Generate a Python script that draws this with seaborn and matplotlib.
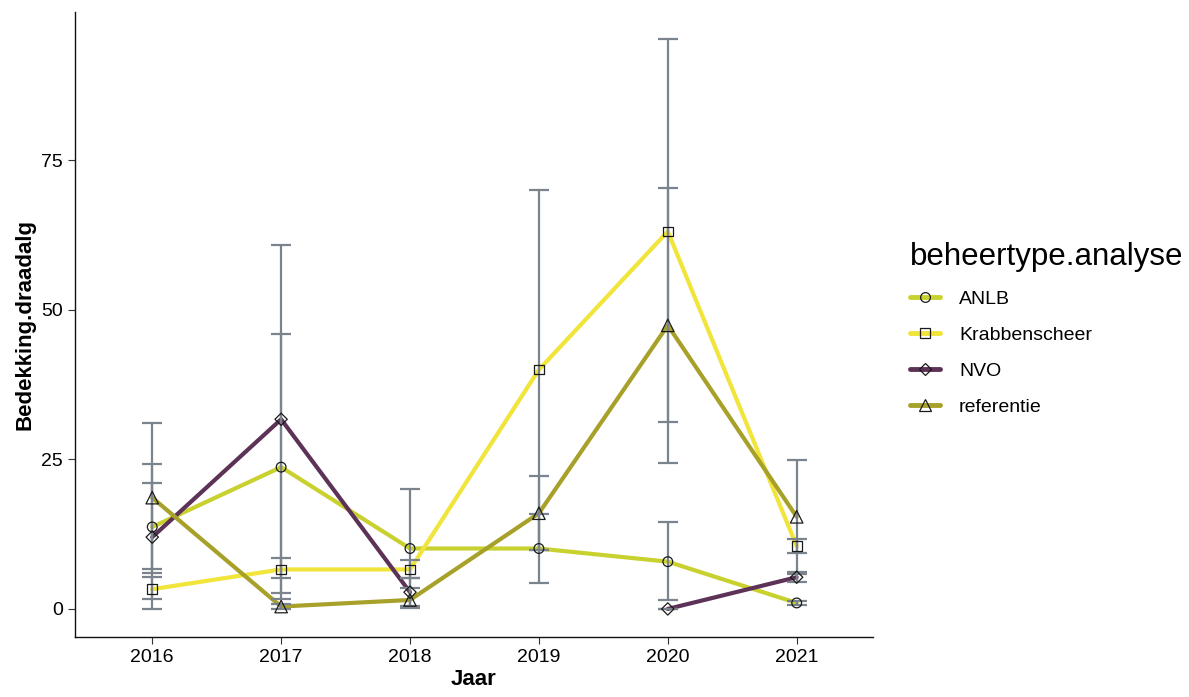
import numpy as np
import pandas as pd
import matplotlib
matplotlib.use("Agg")
import matplotlib.pyplot as plt
from matplotlib.lines import Line2D
import seaborn as sns

years = [2016, 2017, 2018, 2019, 2020, 2021]
groups = ["ANLB", "Krabbenscheer", "NVO", "referentie"]

anlb = [13.7, 23.7, 10.1, 10.1, 7.9, 1.0]
anlb_lo = [6.7, 1.6, 0.2, 4.4, 1.5, 0.7]
anlb_hi = [21.1, 45.9, 20.0, 15.8, 14.5, 1.3]

krab = [3.3, 6.6, 6.6, 40.0, 63.1, 10.5]
krab_lo = [1.6, 5.1, 5.1, 9.9, 31.3, 9.3]
krab_hi = [5.4, 8.5, 8.1, 70.1, 95.2, 11.7]

nvo = [12.0, 31.7, 2.8, np.nan, 0.0, 5.3]
nvo_lo = [0.0, 2.6, 0.5, np.nan, 0.0, 4.5]
nvo_hi = [24.2, 60.9, 5.1, np.nan, 0.0, 6.1]

ref = [18.6, 0.4, 1.5, 16.0, 47.4, 15.4]
ref_lo = [6.0, 0.0, 0.3, 9.8, 24.4, 5.9]
ref_hi = [31.1, 0.8, 3.5, 22.2, 70.3, 24.9]

colors = {"ANLB": "#c9d12f", "Krabbenscheer": "#f1e43a",
          "NVO": "#5c3357", "referentie": "#a7a12a"}
markers = {"ANLB": "o", "Krabbenscheer": "s", "NVO": "D", "referentie": "^"}
msizes = {"ANLB": 7, "Krabbenscheer": 7, "NVO": 7, "referentie": 9}

series = {
    "ANLB": (anlb, anlb_lo, anlb_hi),
    "Krabbenscheer": (krab, krab_lo, krab_hi),
    "NVO": (nvo, nvo_lo, nvo_hi),
    "referentie": (ref, ref_lo, ref_hi),
}

rows = []
for g, (m, lo, hi) in series.items():
    seg = 0
    for y, v, l, h in zip(years, m, lo, hi):
        if np.isnan(v):
            seg += 1
            continue
        rows.append(dict(Jaar=y, groep=g, waarde=v, lo=l, hi=h, seg=f"{g}-{seg}"))
df = pd.DataFrame(rows)

sns.set_style("white")
plt.rcParams["font.family"] = ["Liberation Sans", "DejaVu Sans"]

fig = plt.figure(figsize=(11.89, 6.97), dpi=100)
ax = fig.add_axes([0.063, 0.086, 0.671, 0.897])

sns.lineplot(data=df, x="Jaar", y="waarde", hue="groep", units="seg",
             estimator=None, palette=colors, hue_order=groups,
             linewidth=3.0, legend=False, ax=ax, zorder=2)

# error bars from the lower/upper bounds
for g in groups:
    sub = df[df.groep == g]
    ax.errorbar(sub.Jaar, sub.waarde,
                yerr=[sub.waarde - sub.lo, sub.hi - sub.waarde],
                fmt="none", ecolor="#7b838c", elinewidth=1.6,
                capsize=7.5, capthick=1.6, zorder=3)

# open markers on top
for g in groups:
    sub = df[df.groep == g]
    ax.scatter(sub.Jaar, sub.waarde, marker=markers[g],
               s=msizes[g] ** 2 * (0.8 if markers[g] == "D" else 1.0),
               facecolors="none", edgecolors="#1a1a1a", linewidths=0.9,
               zorder=4)

ax.set_xlim(2015.4, 2021.59)
ax.set_ylim(-4.7, 99.8)
ax.set_xticks(years)
ax.set_yticks([0, 25, 50, 75])
ax.tick_params(axis="both", which="both", direction="out", length=5,
               width=0.8, color="#333333", labelsize=14, labelcolor="black",
               bottom=True, left=True)
for s in ["top", "right"]:
    ax.spines[s].set_visible(False)
for s in ["left", "bottom"]:
    ax.spines[s].set_color("#111111")
    ax.spines[s].set_linewidth(1.0)
ax.set_xlabel("Jaar", fontsize=16, fontweight="bold", labelpad=2, color="black")
ax.set_ylabel("Bedekking.draadalg", fontsize=16, fontweight="bold", labelpad=4,
              color="black")

handles = [Line2D([0], [0], color=colors[g], linewidth=3.5, marker=markers[g],
                  markersize=msizes[g] * (0.85 if markers[g] == "D" else 1.0),
                  markerfacecolor="none", markeredgecolor="#1a1a1a",
                  markeredgewidth=0.9) for g in groups]
leg = fig.legend(handles, groups, title="beheertype.analyse",
                 loc="upper left", bbox_to_anchor=(0.751, 0.678),
                 frameon=False, fontsize=14, title_fontsize=22.5,
                 handlelength=1.5, handletextpad=1.0, labelspacing=0.95,
                 alignment="left")
leg.get_title().set_color("black")
for t in leg.get_texts():
    t.set_color("black")

fig.savefig("out.png", dpi=100)
